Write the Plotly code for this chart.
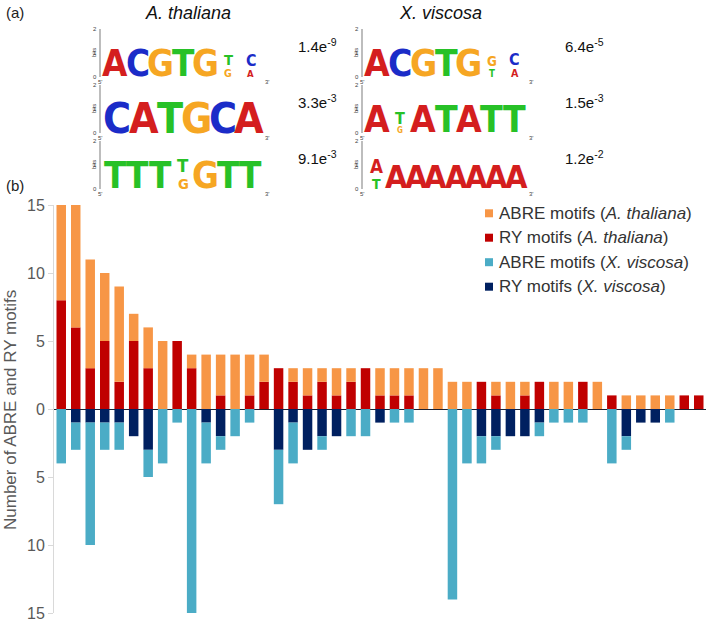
import plotly.graph_objects as go

# ---------------- data (panel b) ----------------
categories = [str(i) for i in range(1, 46)]
abre_at = [7, 9, 8, 5, 7, 2, 3, 5, 0, 1, 4, 3, 4, 3, 2, 0, 1, 2, 1, 2, 1, 0, 2, 2, 2,
           3, 3, 2, 2, 0, 1, 2, 1, 0, 2, 2, 0, 2, 0, 1, 1, 1, 1, 0, 0]
ry_at = [8, 6, 3, 5, 2, 5, 3, 0, 5, 3, 0, 1, 0, 1, 2, 3, 2, 1, 2, 1, 2, 3, 1, 1, 1,
         0, 0, 0, 0, 2, 1, 0, 1, 2, 0, 0, 2, 0, 1, 0, 0, 0, 0, 1, 1]
abre_xv = [4, 2, 9, 2, 2, 0, 2, 4, 1, 15, 3, 1, 2, 1, 0, 4, 3, 0, 1, 0, 2, 2, 0, 1, 1,
           0, 0, 14, 4, 2, 1, 0, 0, 1, 1, 1, 1, 0, 4, 1, 0, 0, 1, 0, 0]
ry_xv = [0, 1, 1, 1, 1, 2, 3, 0, 0, 0, 1, 2, 0, 0, 0, 3, 1, 3, 2, 2, 0, 0, 1, 0, 0,
         0, 0, 0, 0, 2, 2, 2, 2, 1, 0, 0, 0, 0, 0, 2, 1, 1, 0, 0, 0]

y_tick_vals = [-15, -10, -5, 0, 5, 10, 15]
y_tick_text = ["15", "10", "5", "0", "5", "10", "15"]

series_names = ["ABRE motifs (<i>A. thaliana</i>)", "RY motifs (<i>A. thaliana</i>)",
                "ABRE motifs (<i>X. viscosa</i>)", "RY motifs (<i>X. viscosa</i>)"]
series_colors = ["#F79646", "#C00000", "#4BACC6", "#002060"]

# ---------------- data (panel a) ----------------
species = ["A. thaliana", "X. viscosa"]
at_logos = [
    ["A", "C", "G", "T", "G", [("T", 0.28), ("G", 0.2)], [("C", 0.3), ("A", 0.18)]],
    ["C", "A", "T", "G", "C", "A"],
    ["T", "T", "T", [("T", 0.35), ("G", 0.28)], "G", "T", "T"],
]
xv_logos = [
    ["A", "C", "G", "T", "G", [("G", 0.25), ("T", 0.18)], [("C", 0.3), ("A", 0.2)]],
    ["A", [("T", 0.3), ("G", 0.1)], "A", "T", "A", "T", "T"],
    [[("A", 0.4), ("T", 0.3)], "A", "A", "A", "A", "A", "A", "A"],
]
at_pvalues = ["1.4e<sup>-9</sup>", "3.3e<sup>-3</sup>", "9.1e<sup>-3</sup>"]
xv_pvalues = ["6.4e<sup>-5</sup>", "1.5e<sup>-3</sup>", "1.2e<sup>-2</sup>"]
letter_colors = {"A": "#D41E1E", "C": "#1B2CC8", "G": "#F6A623", "T": "#27C127"}

# ---------------- figure ----------------
W, H = 709, 623
ML, MR, MT, MB = 54, 3, 205, 10


def xp(px):
    return (px - ML) / (W - ML - MR)


def yp(py):
    return (H - MB - py) / (H - MT - MB)


fig = go.Figure()
fig.add_bar(x=categories, y=ry_at, marker_color=series_colors[1], name=series_names[1])
fig.add_bar(x=categories, y=abre_at, marker_color=series_colors[0], name=series_names[0])
fig.add_bar(x=categories, y=[-v for v in ry_xv], marker_color=series_colors[3], name=series_names[3])
fig.add_bar(x=categories, y=[-v for v in abre_xv], marker_color=series_colors[2], name=series_names[2])
fig.update_traces(showlegend=False, marker_line_width=0)

FONT = "Liberation Sans, Arial, sans-serif"
fig.update_layout(
    width=W, height=H,
    margin=dict(l=ML, r=MR, t=MT, b=MB, pad=0, autoexpand=False),
    barmode="relative", bargap=0.345,
    plot_bgcolor="white", paper_bgcolor="white",
    font=dict(family=FONT, color="#595959"),
    showlegend=False,
    xaxis=dict(visible=False, range=[-0.5, 44.5], type="category", automargin=False),
    yaxis=dict(range=[-15, 15], tickvals=y_tick_vals, ticktext=y_tick_text,
               showline=True, linecolor="#D9D9D9", linewidth=1, automargin=False,
               ticks="outside", ticklen=5, tickcolor="#D9D9D9",
               tickfont=dict(size=16, color="#595959"), ticklabeloverflow="allow",
               showgrid=False, zeroline=True, zerolinecolor="#1C1F2E", zerolinewidth=1.4),
)

ann = []
# y-axis title
ann.append(dict(x=xp(10), y=yp(410), text="Number of ABRE and RY motifs", textangle=-90,
                font=dict(size=17, color="#595959"), xanchor="center", yanchor="middle"))

# custom legend
leg_y = [213.3, 237.7, 262.2, 286.7]
shapes = []
for name, col, ly in zip(series_names, series_colors, leg_y):
    shapes.append(dict(type="rect", xref="paper", yref="paper",
                       x0=xp(485), x1=xp(493), y0=yp(ly + 4), y1=yp(ly - 4),
                       fillcolor=col, line_width=0))
    ann.append(dict(x=xp(496.5), y=yp(ly), text=name, xanchor="left", yanchor="middle",
                    font=dict(size=17, color="#333333")))

# panel labels
ann.append(dict(x=xp(4), y=yp(13), text="(a)", xanchor="left", yanchor="middle",
                font=dict(size=15, color="#222222")))
ann.append(dict(x=xp(4), y=yp(186), text="(b)", xanchor="left", yanchor="middle",
                font=dict(size=15, color="#222222")))
for sp, cx in zip(species, [188, 440]):
    ann.append(dict(x=xp(cx), y=yp(13), text="<i>%s</i>" % sp, xanchor="center", yanchor="middle",
                    font=dict(size=18, color="#111111")))

LOGO_FONT = "DejaVu Sans Condensed, Liberation Sans Narrow, Arial Narrow, sans-serif"


def add_logo(stacks, x_axis, x_left, x_right, baseline, full_h):
    n = len(stacks)
    pitch = (x_right - x_left) / n
    F = min(pitch / 0.6, 60)
    for i, st in enumerate(stacks):
        cx = x_left + pitch * (i + 0.5)
        if isinstance(st, str):
            st = [(st, 1.0)]
        y = baseline
        for letter, frac in reversed(st):
            fs = F * 0.97 if frac >= 1 else max(F * frac * 1.4, 8)
            ann.append(dict(x=xp(cx), y=yp(y - 0.36 * fs), text=letter, xanchor="center",
                            yanchor="middle", borderpad=0,
                            font=dict(size=fs, color=letter_colors[letter], family=LOGO_FONT,
                                      weight="bold")))
            y = y - 1.12 * fs
    # small bits axis
    shapes.append(dict(type="line", xref="paper", yref="paper", x0=xp(x_axis), x1=xp(x_axis),
                       y0=yp(baseline), y1=yp(baseline - full_h), line=dict(color="#444444", width=0.7)))
    for k, lab in enumerate(["0", "1", "2"]):
        ann.append(dict(x=xp(x_axis - 1), y=yp(baseline - k * full_h / 2), text=lab, xanchor="right",
                        yanchor="middle", font=dict(size=6, color="#444444")))
    ann.append(dict(x=xp(x_axis - 6), y=yp(baseline - full_h / 2), text="bits", textangle=-90,
                    xanchor="center", yanchor="middle", font=dict(size=6, color="#444444")))
    ann.append(dict(x=xp(x_axis), y=yp(baseline + 5), text="5'", xanchor="center",
                    yanchor="middle", font=dict(size=6, color="#444444")))
    ann.append(dict(x=xp(x_right + 5), y=yp(baseline + 5), text="3'", xanchor="center",
                    yanchor="middle", font=dict(size=6, color="#444444")))


baselines = [77, 133, 189]
for row in range(3):
    add_logo(at_logos[row], 100, 104, 262, baselines[row], 48)
    add_logo(xv_logos[row], 362, 366, 526, baselines[row], 48)
    ann.append(dict(x=xp(296), y=yp(baselines[row] - 32), text=at_pvalues[row], xanchor="left",
                    yanchor="middle", font=dict(size=15, color="#111111")))
    ann.append(dict(x=xp(563), y=yp(baselines[row] - 32), text=xv_pvalues[row], xanchor="left",
                    yanchor="middle", font=dict(size=15, color="#111111")))

for a in ann:
    a.setdefault("xref", "paper")
    a.setdefault("yref", "paper")
    a["showarrow"] = False
fig.update_layout(annotations=ann, shapes=shapes)

fig.write_html("out.html", config={"displayModeBar": False},
               post_script="document.body.style.margin='0';")
